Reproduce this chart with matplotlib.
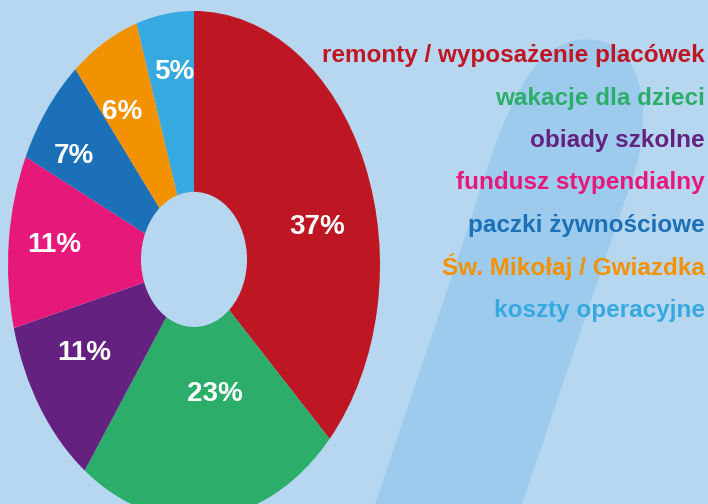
import numpy as np
import matplotlib
matplotlib.use('Agg')
import matplotlib.pyplot as plt
from matplotlib.path import Path
from matplotlib.patches import PathPatch, Ellipse

# data
categories = ['remonty / wyposażenie placówek', 'wakacje dla dzieci', 'obiady szkolne',
              'fundusz stypendialny', 'paczki żywnościowe', 'Św. Mikołaj / Gwiazdka',
              'koszty operacyjne']
shares = [37, 23, 11, 11, 7, 6, 5]
colors = ['#BE1622', '#2DAD6A', '#64217F', '#E6197A', '#1B70B8', '#F39200', '#36A9E1']

BG = '#B7D7F1'
STRIPE = '#9CCBEE'
FONT = ['Liberation Sans', 'DejaVu Sans']

W, H = 708, 504
fig = plt.figure(figsize=(W / 100, H / 100), dpi=100)
fig.patch.set_facecolor(BG)

# decorative ribbon in the background (pixel coords, y from top)
def px(x, y):
    return (x / W, 1 - y / H)

verts = [px(375, 504), px(460, 252),
         px(490, 165), px(515, 48), px(578, 40),
         px(645, 32), px(655, 115), px(632, 180),
         px(522, 504), px(375, 504)]
codes = [Path.MOVETO, Path.LINETO,
         Path.CURVE4, Path.CURVE4, Path.CURVE4,
         Path.CURVE4, Path.CURVE4, Path.CURVE4,
         Path.LINETO, Path.CLOSEPOLY]
fig.patches.append(PathPatch(Path(verts, codes), transform=fig.transFigure,
                             facecolor=STRIPE, edgecolor='none', zorder=0))

# pie axes: stretched so the donut becomes an ellipse (runs off the bottom)
cx, cy, rx, ry = 194, 265, 186, 254
ax = fig.add_axes([(cx - rx) / W, (H - cy - ry) / H, 2 * rx / W, 2 * ry / H])
wedges, texts, autotexts = ax.pie(shares, colors=colors, startangle=90, counterclock=False,
                                  autopct='%.0f%%', pctdistance=0.65,
                                  wedgeprops=dict(linewidth=0),
                                  textprops=dict(color='white', fontsize=20, fontweight='bold',
                                                 family=FONT))
ax.set_aspect('auto')
ax.set_xlim(-1, 1)
ax.set_ylim(-1, 1)
ax.set_facecolor('none')
ax.axis('off')

# the hole sits a little above centre in the original
ax.add_patch(Ellipse((0, 0.022), 0.57, 0.532, facecolor=BG, edgecolor='none', zorder=3))

# label positions (axes units)
label_pos = [(0.665, 0.15), (0.113, -0.508), (-0.591, -0.346), (-0.753, 0.079),
             (-0.645, 0.429), (-0.387, 0.602), (-0.108, 0.76)]
for t, (lx, ly) in zip(autotexts, label_pos):
    t.set_position((lx, ly))
    t.set_ha('center')
    t.set_va('center')
    t.set_zorder(4)

# coloured category list on the right
row_base = [62, 104.5, 147, 189.5, 232, 274.5, 317]
for name, c, y in zip(categories, colors, row_base):
    fig.text(705 / W, 1 - y / H, name, color=c, fontsize=17.5, fontweight='bold',
             family=FONT, ha='right', va='baseline')

fig.savefig('out.png', dpi=100, facecolor=BG)
